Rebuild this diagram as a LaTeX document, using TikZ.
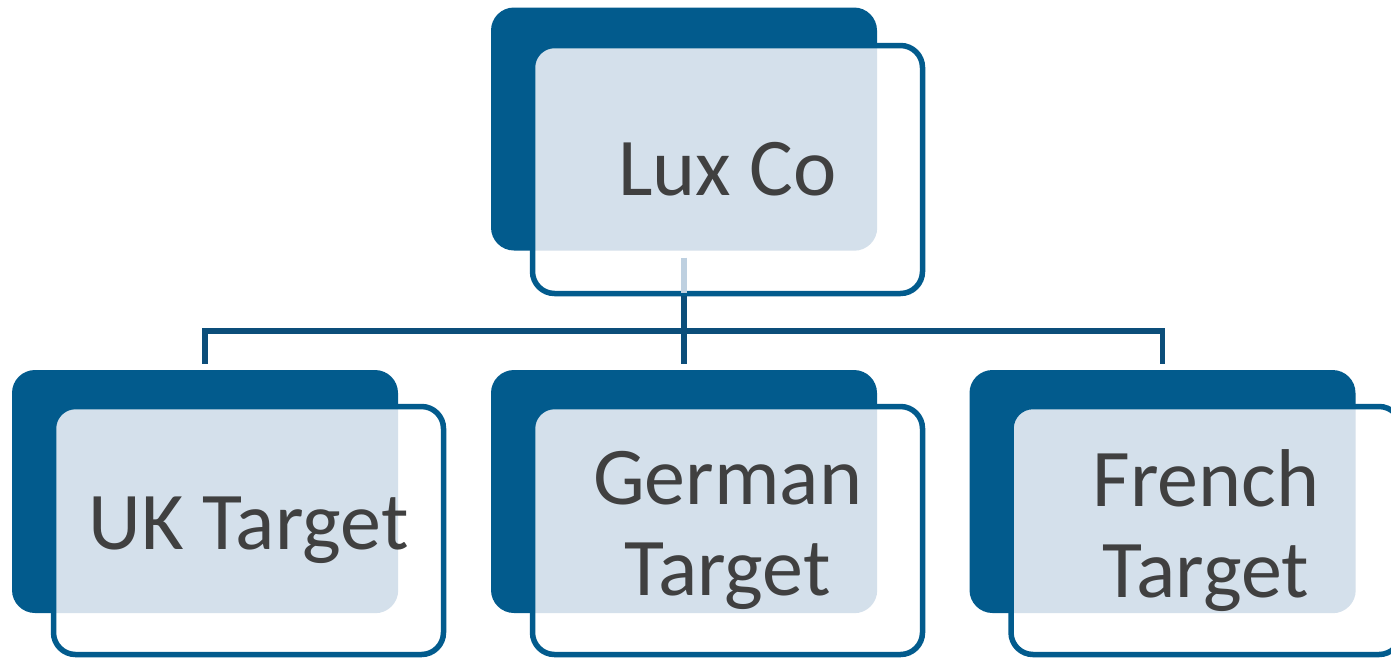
\documentclass[tikz,border=0pt]{standalone}
\usepackage{fontspec}
\setmainfont{Carlito}
\usetikzlibrary{calc}
\definecolor{boxblue}{RGB}{2,91,141}
\definecolor{lineblue}{RGB}{12,78,122}
\definecolor{dotblue}{RGB}{212,224,235}
\definecolor{stubblue}{RGB}{190,208,224}
\definecolor{textgray}{RGB}{64,64,64}
\begin{document}
\begin{tikzpicture}[x=1pt,y=-1pt,
    backbox/.style={fill=boxblue,rounded corners=23pt,minimum width=386pt,minimum height=243pt,inner sep=0pt},
    frontbox/.style={draw=boxblue,line width=5.5pt,fill=white,rounded corners=22pt,minimum width=390pt,minimum height=248pt,inner sep=0pt,
        align=center,text=textgray,font=\fontsize{82}{91}\selectfont,
        path picture={\fill[dotblue,rounded corners=23pt] (#1.south west) rectangle (#1.north east);}},
    conn/.style={draw=lineblue,line width=5.5pt}]
    \useasboundingbox (0,0) rectangle (1391,657);
    \node[backbox] (lux) at (684,129) {};
    \node[backbox] (uk) at (205,491.5) {};
    \node[backbox] (de) at (684,491.5) {};
    \node[backbox] (fr) at (1162.5,491.5) {};
    \node[frontbox=lux] (luxf) at ($(lux)+(43.5,40.5)$) {Lux Co};
    \node[frontbox=uk] (ukf) at ($(uk)+(43.5,39)$) {UK Target};
    \node[frontbox=de] (def) at ($(de)+(43.5,39)$) {German\\Target};
    \node[frontbox=fr] (frf) at ($(fr)+(43.5,39)$) {French\\Target};
    \coordinate (bar) at (0,331);
    \draw[line width=5.5pt,draw=stubblue] ($(lux.south)+(0,7)$) -- ($(lux.south |- luxf.south)+(0,-3)$);
    \draw[conn] (lux.south |- luxf.south) -- (lux.south |- bar);
    \draw[conn,shorten <=6pt,shorten >=6pt] (uk.north) -- (uk.north |- bar) -- (fr.north |- bar) -- (fr.north);
    \draw[conn,shorten >=6pt] (de.north |- bar) -- (de.north);
\end{tikzpicture}
\end{document}
